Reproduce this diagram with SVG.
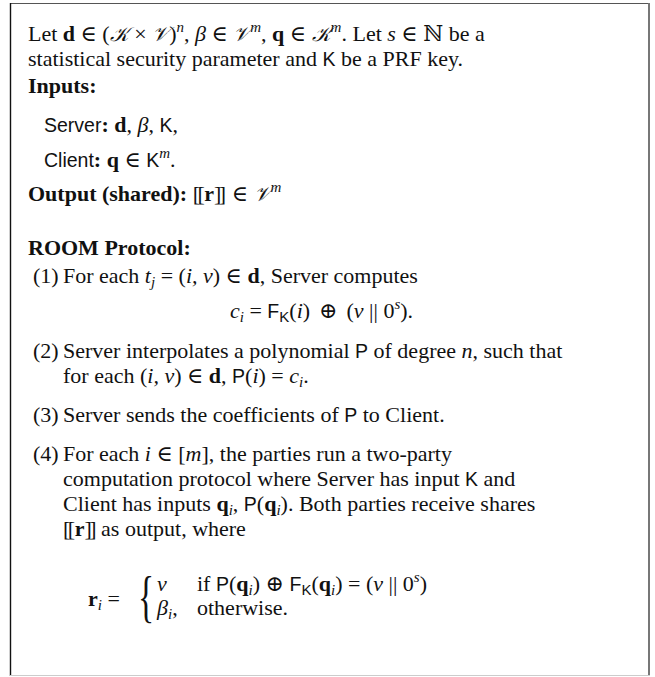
<svg xmlns="http://www.w3.org/2000/svg" width="655" height="677" viewBox="0 0 655 677">
<style>
text{font-family:"Liberation Serif","DejaVu Serif",serif;font-size:22px;fill:#111}
.b{font-weight:bold}
.i{font-style:italic}
.sf{font-family:"Liberation Sans","DejaVu Sans",sans-serif;font-size:19.5px;font-style:normal;font-weight:normal}
.cal{font-family:"DejaVu Serif","Noto Sans",serif;font-style:italic;font-size:20px}
.sup{font-size:15px}
.dbl{letter-spacing:-2.5px}
.brace{font-size:56px;font-weight:normal}
</style>
<rect width="655" height="677" fill="#fff"/>
<g id="frame">
<line x1="10" y1="3.5" x2="650" y2="3.5" stroke="#555" stroke-width="1.2"/>
<line x1="10.5" y1="3" x2="10.5" y2="676" stroke="#111" stroke-width="1.4"/>
<line x1="649" y1="3" x2="649" y2="676" stroke="#777" stroke-width="2"/>
<line x1="10" y1="675.5" x2="650" y2="675.5" stroke="#ccc" stroke-width="1.2"/>
</g>
<g id="preamble">
<text x="28" y="41">Let <tspan class="b">d</tspan> ∈ (<tspan class="cal">𝒦</tspan> × <tspan class="cal">𝒱</tspan>)<tspan class="i sup" dy="-9">n</tspan><tspan dy="9">, </tspan><tspan class="i">β</tspan> ∈ <tspan class="cal">𝒱</tspan><tspan class="i sup" dy="-9">m</tspan><tspan dy="9">, </tspan><tspan class="b">q</tspan> ∈ <tspan class="cal">𝒦</tspan><tspan class="i sup" dy="-9">m</tspan><tspan dy="9">. Let </tspan><tspan class="i">s</tspan> ∈ ℕ be a</text>
<text x="28" y="66">statistical security parameter and <tspan class="sf">K</tspan> be a PRF key.</text>
</g>
<g id="inputs">
<text x="28" y="93" class="b">Inputs:</text>
<text x="44" y="132"><tspan class="sf">Server</tspan><tspan class="b">: </tspan><tspan class="b">d</tspan>, <tspan class="i">β</tspan>, <tspan class="sf">K</tspan>,</text>
<text x="44" y="167"><tspan class="sf">Client</tspan><tspan class="b">: </tspan><tspan class="b">q</tspan> ∈ <tspan class="sf">K</tspan><tspan class="i sup" dy="-9">m</tspan><tspan dy="9">.</tspan></text>
</g>
<g id="output">
<text x="28" y="201"><tspan class="b">Output (shared): </tspan><tspan class="dbl">[[</tspan><tspan dx="2" class="b">r</tspan><tspan class="dbl">]]</tspan><tspan dx="8">∈ </tspan><tspan class="cal">𝒱</tspan><tspan class="i sup" dy="-9">m</tspan></text>
</g>
<g id="protocol">
<text x="28" y="255" class="b">ROOM Protocol:</text>
<text x="33" y="283">(1)</text>
<text x="63" y="283">For each <tspan class="i">t</tspan><tspan class="i sup" dy="4">j</tspan><tspan dy="-4"> = (</tspan><tspan class="i">i, v</tspan>) ∈ <tspan class="b">d</tspan>, Server computes</text>
<text x="230" y="318"><tspan class="i">c</tspan><tspan class="i sup" dy="4">i</tspan><tspan dy="-4"> = </tspan><tspan class="sf">F</tspan><tspan class="sf sup" dy="4">K</tspan><tspan dy="-4">(</tspan><tspan class="i">i</tspan>)<tspan dx="9">⊕</tspan><tspan dx="9">(</tspan><tspan class="i">v</tspan> || 0<tspan class="i sup" dy="-9">s</tspan><tspan dy="9">).</tspan></text>
<text x="33" y="358">(2)</text>
<text x="63" y="358">Server interpolates a polynomial <tspan class="sf">P</tspan> of degree <tspan class="i">n</tspan>, such that</text>
<text x="63" y="383">for each (<tspan class="i">i, v</tspan>) ∈ <tspan class="b">d</tspan>, <tspan class="sf">P</tspan>(<tspan class="i">i</tspan>) = <tspan class="i">c</tspan><tspan class="i sup" dy="4">i</tspan><tspan dy="-4">.</tspan></text>
<text x="33" y="422">(3)</text>
<text x="63" y="422">Server sends the coefficients of <tspan class="sf">P</tspan> to Client.</text>
<text x="33" y="461">(4)</text>
<text x="63" y="461">For each <tspan class="i">i</tspan> ∈ [<tspan class="i">m</tspan>], the parties run a two-party</text>
<text x="63" y="486">computation protocol where Server has input <tspan class="sf">K</tspan> and</text>
<text x="63" y="511">Client has inputs <tspan class="b">q</tspan><tspan class="i sup" dy="4">i</tspan><tspan dy="-4">, </tspan><tspan class="sf">P</tspan>(<tspan class="b">q</tspan><tspan class="i sup" dy="4">i</tspan><tspan dy="-4">). Both parties receive shares</tspan></text>
<text x="63" y="536"><tspan class="dbl">[[</tspan><tspan dx="2" class="b">r</tspan><tspan class="dbl">]]</tspan><tspan dx="7">as output, where</tspan></text>
<text x="88" y="606"><tspan class="b">r</tspan><tspan class="i sup" dy="4">i</tspan><tspan dy="-4"> =</tspan></text>
<text class="brace" x="138" y="616" transform="translate(138 616) scale(0.6 1) translate(-138 -616)">{</text>
<text x="157" y="591" class="i">v</text>
<text x="197" y="591">if <tspan class="sf">P</tspan>(<tspan class="b">q</tspan><tspan class="i sup" dy="4">i</tspan><tspan dy="-4">) ⊕ </tspan><tspan class="sf">F</tspan><tspan class="sf sup" dy="4">K</tspan><tspan dy="-4">(</tspan><tspan class="b">q</tspan><tspan class="i sup" dy="4">i</tspan><tspan dy="-4">) = (</tspan><tspan class="i">v</tspan> || 0<tspan class="i sup" dy="-9">s</tspan><tspan dy="9">)</tspan></text>
<text x="157" y="615"><tspan class="i">β</tspan><tspan class="i sup" dy="4">i</tspan><tspan dy="-4">,</tspan></text>
<text x="197" y="615">otherwise.</text>
</g>
</svg>
